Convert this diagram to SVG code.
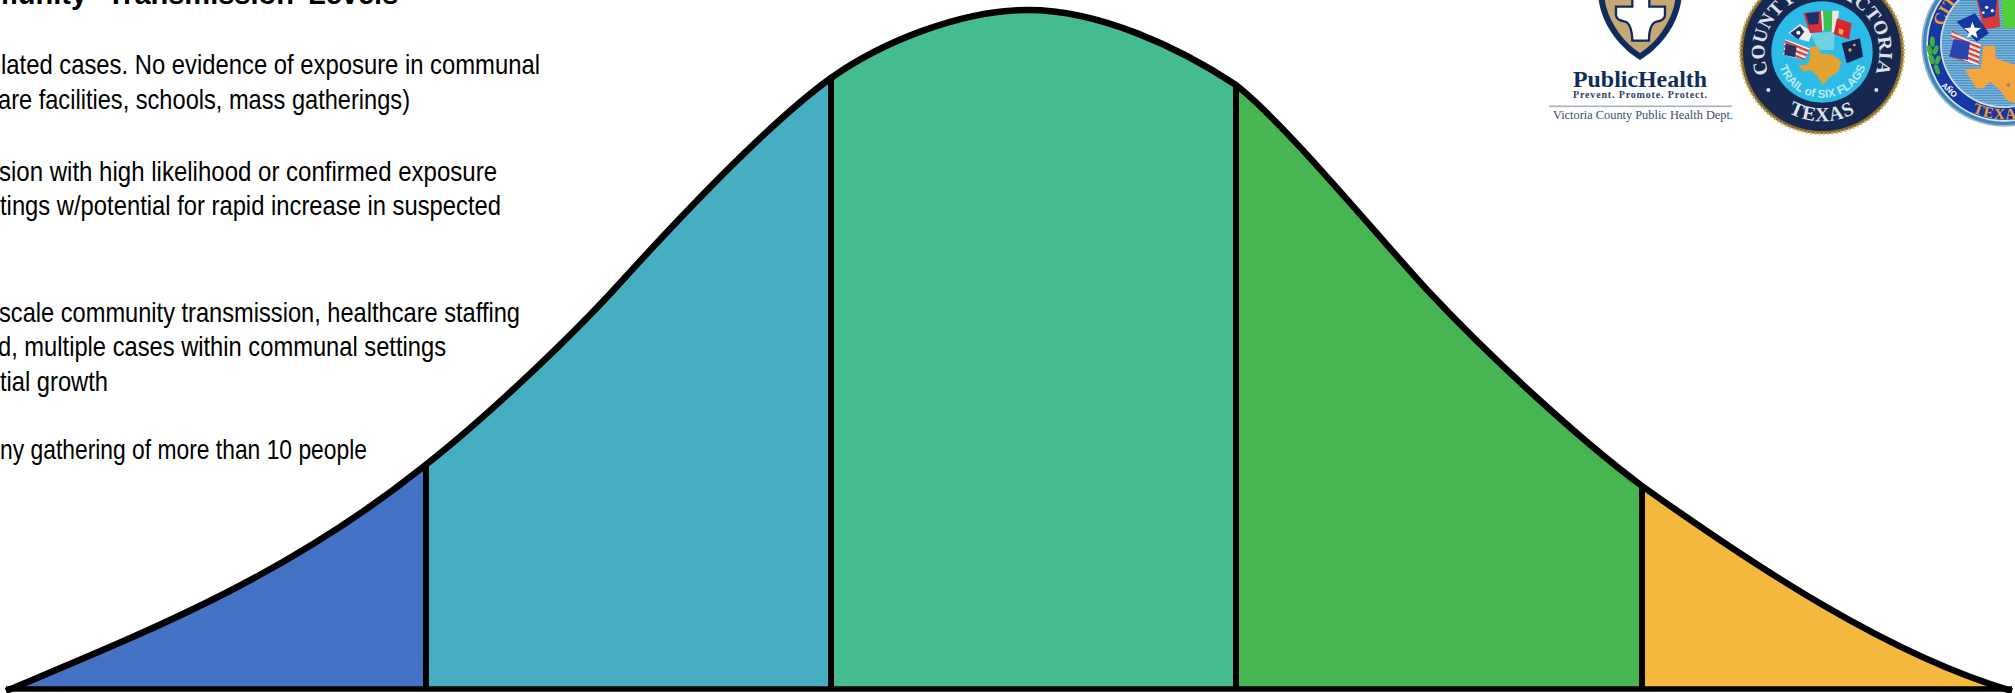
<svg xmlns="http://www.w3.org/2000/svg" width="2015" height="693" viewBox="0 0 2015 693">
<style>
.b{font-family:"Liberation Sans",Arial,sans-serif;font-size:28px;fill:#000}
.t{font-family:"Liberation Sans",Arial,sans-serif;font-size:29px;font-weight:700;fill:#000}
.s{font-family:"Liberation Serif","Times New Roman",serif}
.line{fill:none;stroke:#000;stroke-width:6}
</style>
<defs>
<path id="bell" d="M6 691C146 632 284 578 423 467C487 417 572 336 620 283C670 228 763 127 831 78C880 43 960 10 1028 10C1100 10 1180 48 1236 85C1285 123 1385 245 1430 293C1490 357 1580 440 1642 486C1760 570 1890 655 2012 691Z"/>
<clipPath id="bellClip"><use href="#bell"/></clipPath>
<pattern id="stripes" width="6" height="5" patternUnits="userSpaceOnUse"><rect width="6" height="5" fill="#8cc0e2"/><rect width="6" height="2.4" fill="#3d86bd"/></pattern>
<pattern id="usStripes" width="24" height="14" patternUnits="userSpaceOnUse" patternTransform="rotate(22)"><rect width="24" height="14" fill="#f4f0f0"/><rect width="24" height="7" fill="#d93a3a"/></pattern>
<path id="arc1top" d="M105 229A172 172 0 1 1 417 229"/>
<path id="arc1bot" d="M85 270A212 212 0 0 0 437 270"/>
<path id="arc1in" d="M135 205A136 136 0 0 0 390 205"/>
<path id="arc2top" d="M84 82A190 190 0 0 1 267 -58"/>
<path id="arc2bot" d="M94 277A226 226 0 0 0 440 277"/>
</defs>

<g id="title"><text class="t" x="-8" y="4">munity<tspan x="107">Transmission</tspan><tspan x="308">Levels</tspan></text></g>

<g id="descriptions">
<text class="b" x="1" y="74" textLength="539" lengthAdjust="spacingAndGlyphs">lated cases. No evidence of exposure in communal</text>
<text class="b" x="-2" y="109" textLength="412" lengthAdjust="spacingAndGlyphs">are facilities, schools, mass gatherings)</text>
<text class="b" x="-1" y="181" textLength="498" lengthAdjust="spacingAndGlyphs">sion with high likelihood or confirmed exposure</text>
<text class="b" x="0" y="215" textLength="501" lengthAdjust="spacingAndGlyphs">tings w/potential for rapid increase in suspected</text>
<text class="b" x="-1" y="322" textLength="521" lengthAdjust="spacingAndGlyphs">scale community transmission, healthcare staffing</text>
<text class="b" x="-2" y="356" textLength="448" lengthAdjust="spacingAndGlyphs">d, multiple cases within communal settings</text>
<text class="b" x="0" y="391" textLength="108" lengthAdjust="spacingAndGlyphs">tial growth</text>
<text class="b" x="0" y="459" textLength="367" lengthAdjust="spacingAndGlyphs">ny gathering of more than 10 people</text>
</g>

<g id="bell-curve">
<g clip-path="url(#bellClip)">
<rect id="level-1" x="0" y="0" width="426" height="693" fill="#4472c4"/>
<rect id="level-2" x="426" y="0" width="405" height="693" fill="#45aec1"/>
<rect id="level-3" x="831" y="0" width="405" height="693" fill="#44bc90"/>
<rect id="level-4" x="1236" y="0" width="406" height="693" fill="#48b553"/>
<rect id="level-5" x="1642" y="0" width="373" height="693" fill="#f5b83f"/>
</g>
<path class="line" style="stroke-width:6.5" d="M6 691C146 632 284 578 423 467C487 417 572 336 620 283C670 228 763 127 831 78C880 43 960 10 1028 10C1100 10 1180 48 1236 85C1285 123 1385 245 1430 293C1490 357 1580 440 1642 486C1760 570 1890 655 2012 691"/>
<path class="line" d="M426 466V689M831 78V689M1236 85V689M1642 486V689"/>
<path d="M6 689H2012" fill="none" stroke="#000" stroke-width="5.4"/>
</g>

<g id="public-health-logo">
<path d="M1598 -6C1600 24 1620 48 1640 60C1660 48 1680 24 1682 -6Z" fill="#0f2d5c"/>
<path d="M1604 -6C1606 20 1623 42 1640 53C1657 42 1674 20 1676 -6Z" fill="#c6a875"/>
<path transform="translate(1550 0) scale(.33333)" d="M247 -15V20H198V45Q198 60 225 65Q245 70 247 122H297Q297 70 320 65Q345 60 345 45V20H298V-15Z" fill="#fff" stroke="#0f2d5c" stroke-width="7"/>
<text class="s" x="1573" y="87" font-size="24" font-weight="700" fill="#0f2d5c" textLength="134" lengthAdjust="spacingAndGlyphs">PublicHealth</text>
<text class="s" x="1573" y="98" font-size="10" font-weight="700" fill="#2c4468" textLength="134" lengthAdjust="spacing">Prevent. Promote. Protect.</text>
<rect x="1549" y="105.5" width="183" height="1.6" fill="#a9b4ba"/>
<text class="s" x="1553" y="119" font-size="13" fill="#3a4f6c" textLength="180" lengthAdjust="spacingAndGlyphs">Victoria County Public Health Dept.</text>
</g>

<g id="county-seal" transform="translate(1735 0) scale(.33333)">
<circle cx="261" cy="156" r="246" fill="#8a6d2f"/>
<circle cx="261" cy="156" r="246" fill="none" stroke="#d1b36a" stroke-width="7" stroke-dasharray="6 7"/>
<circle cx="261" cy="156" r="237" fill="#16284f"/>
<circle cx="261" cy="156" r="152" fill="#2cbbe6"/>
<g class="s" fill="#dfe2ea" font-weight="700">
<text font-size="58" letter-spacing="1"><textPath href="#arc1top" startOffset="50%" text-anchor="middle">COUNTY OF VICTORIA</textPath></text>
<text font-size="60" letter-spacing="2"><textPath href="#arc1bot" startOffset="50%" text-anchor="middle">TEXAS</textPath></text>
</g>
<text font-family="Liberation Sans,Arial,sans-serif" font-size="35" font-weight="700" fill="#bfeaf5"><textPath href="#arc1in" startOffset="50%" text-anchor="middle">TRAIL of SIX FLAGS</textPath></text>
<circle cx="100" cy="270" r="6" fill="#dfe2ea"/><circle cx="424" cy="270" r="6" fill="#dfe2ea"/>
<path d="M225 100L300 95L296 150L250 150Z" fill="#6fd0e0"/>
<path d="M150 118L225 145L208 180L145 165Z" fill="url(#usStripes)"/>
<path d="M152 130L185 140L180 172L148 165Z" fill="#27305c"/>
<path d="M160 100L195 72L232 95L222 125L195 118Z" fill="#f2efef"/>
<path d="M165 100L195 78L208 95L190 118Z" fill="#1b2f6b"/>
<circle cx="190" cy="98" r="6" fill="#fff"/>
<path d="M205 40L258 33L262 95L225 100Z" fill="#d6303a"/>
<path d="M212 40L252 36L250 72L222 74Z" fill="#1d2f66"/>
<path d="M258 33H266V92H262Z" fill="#f0e8e0"/>
<path d="M264 32H292L290 92H268Z" fill="#35c24d"/>
<path d="M292 32H312L306 97H290Z" fill="#ece8dc"/>
<path d="M306 55L350 70L342 118L296 102Z" fill="#d9262c"/>
<path d="M312 85l14 5l-4 16l-12-6Z" fill="#e9b04a"/>
<path d="M320 130L375 115L384 170L335 190Z" fill="#14244e"/>
<circle cx="345" cy="150" r="5" fill="#d8b352"/><circle cx="358" cy="135" r="4" fill="#d8b352"/>
<path d="M225 140L250 140L255 160L295 165L320 185L310 215L280 235L265 255L245 225L225 210L205 215L190 195L215 195L225 180Z" fill="#e2a333"/>
</g>

<g id="city-seal" transform="translate(1915 0) scale(.33333)">
<circle cx="267" cy="132" r="248" fill="#9fb4c2"/>
<circle cx="267" cy="132" r="243" fill="#3d86bd"/>
<circle cx="267" cy="132" r="233" fill="#dbe7ef"/>
<circle cx="267" cy="132" r="228" fill="#1538a4"/>
<circle cx="267" cy="132" r="192" fill="#cfe2ef"/>
<circle cx="267" cy="132" r="187" fill="url(#stripes)"/>
<text class="s" font-size="50" font-weight="700" fill="#ef9d3a"><textPath href="#arc2top" startOffset="2">CIT</textPath></text>
<text class="s" font-size="46" font-weight="700" fill="#ef9d3a" letter-spacing="3"><textPath href="#arc2bot" startOffset="98">TEXAS</textPath></text>
<text font-family="Liberation Sans,Arial,sans-serif" font-size="24" font-weight="700" fill="#fff" transform="translate(78 258) rotate(42)">AÑO</text>
<g fill="#3fae3a"><ellipse cx="52" cy="125" rx="8" ry="16"/><ellipse cx="44" cy="150" rx="8" ry="15" transform="rotate(-20 44 150)"/><ellipse cx="62" cy="150" rx="7" ry="15" transform="rotate(20 62 150)"/><ellipse cx="50" cy="178" rx="8" ry="15" transform="rotate(-20 50 178)"/><ellipse cx="68" cy="180" rx="7" ry="14" transform="rotate(20 68 180)"/><ellipse cx="66" cy="208" rx="7" ry="16" transform="rotate(-20 66 208)"/></g>
<path d="M185 0H250L255 80L205 90Z" fill="#d93a3a"/>
<path d="M188 0H245L240 48L205 55Z" fill="#1438a0"/>
<circle cx="215" cy="22" r="5" fill="#fff"/><circle cx="232" cy="32" r="5" fill="#fff"/><circle cx="205" cy="38" r="4" fill="#fff"/>
<path d="M260 0H300V85H263Z" fill="#4fcf3a"/>
<path d="M125 65L180 40L222 100L185 125Z" fill="#1438a0"/>
<path d="M172 65l7 18l19 1l-15 12l5 19l-16-11l-16 11l6-19l-15-12l19-1Z" fill="#fff"/>
<path d="M112 92L170 125L160 150L106 112Z" fill="url(#usStripes)"/>
<path d="M118 115L198 130L190 195L100 170Z" fill="url(#usStripes)"/>
<path d="M116 117L165 126L158 180L102 170Z" fill="#2746b2"/>
<path d="M150 208L198 205L205 137L240 137L242 175L300 195V310L275 300L255 270L225 245L205 265L185 265L165 235Z" fill="#f3a53e"/>
<circle cx="280" cy="255" r="6" fill="#a98a4a"/>
</g>
</svg>
